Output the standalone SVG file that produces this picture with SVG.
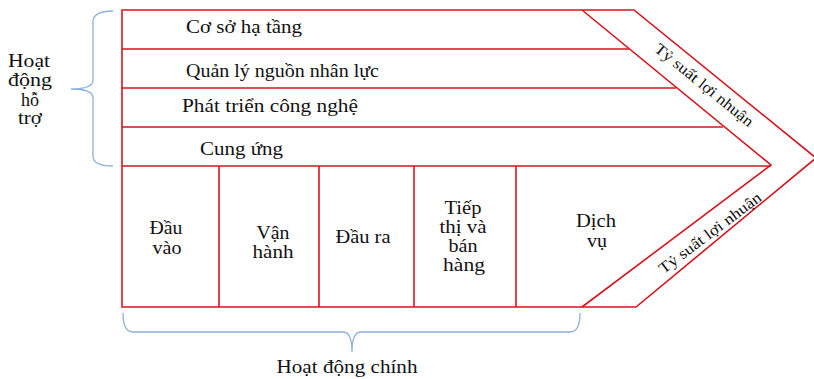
<svg xmlns="http://www.w3.org/2000/svg" width="814" height="379" viewBox="0 0 814 379">
<style>
.ln{stroke:#d7141e;stroke-width:1.6;fill:none}
.br{stroke:#8fb1dd;stroke-width:1.3;fill:none}
.t{font-family:"Liberation Serif","DejaVu Serif","Times New Roman",serif;font-size:18px;fill:#111}
.c{text-anchor:middle}
.s{font-size:15.5px}
</style>
<rect width="814" height="379" fill="#fff"/>
<g id="connectors">
<path class="br" d="M113,11 Q93,11 93,22 L93,80 Q93,89 71,89 Q93,89 93,98 L93,156 Q93,166 113,166"/>
<path class="br" d="M123,313 Q123,332 133,332 L343,332 Q352,332 352,352 Q352,332 361,332 L570,332 Q580,332 580,313"/>
</g>
<g id="frame">
<path class="ln" d="M122,10 L634,10 L816,158 L636,307 L122,307 Z"/>
<path class="ln" d="M582,10 L771,165 L582,307"/>
<line class="ln" x1="122" y1="49" x2="629" y2="49"/>
<line class="ln" x1="122" y1="88" x2="676" y2="88"/>
<line class="ln" x1="122" y1="127" x2="723" y2="127"/>
<line class="ln" x1="122" y1="166" x2="771" y2="166"/>
<line class="ln" x1="219" y1="166" x2="219" y2="307"/>
<line class="ln" x1="319" y1="166" x2="319" y2="307"/>
<line class="ln" x1="414" y1="166" x2="414" y2="307"/>
<line class="ln" x1="516" y1="166" x2="516" y2="307"/>
</g>
<g id="support-infra"><text class="t" x="186" y="33" textLength="116" lengthAdjust="spacingAndGlyphs">Cơ sở hạ tầng</text></g>
<g id="support-hr"><text class="t" x="186" y="77" textLength="193" lengthAdjust="spacingAndGlyphs">Quản lý nguồn nhân lực</text></g>
<g id="support-tech"><text class="t" x="182" y="112" textLength="176" lengthAdjust="spacingAndGlyphs">Phát triển công nghệ</text></g>
<g id="support-proc"><text class="t" x="200" y="155" textLength="83" lengthAdjust="spacingAndGlyphs">Cung ứng</text></g>
<g id="label-support"><text class="t c" x="29" y="67" textLength="42" lengthAdjust="spacingAndGlyphs">Hoạt</text><text class="t c" x="30" y="86" textLength="44" lengthAdjust="spacingAndGlyphs">động</text><text class="t c" x="30" y="106">hỗ</text><text class="t c" x="30" y="124" textLength="24" lengthAdjust="spacingAndGlyphs">trợ</text></g>
<g id="primary-in"><text class="t c" x="166" y="234" textLength="33" lengthAdjust="spacingAndGlyphs">Đầu</text><text class="t c" x="167" y="254" textLength="29" lengthAdjust="spacingAndGlyphs">vào</text></g>
<g id="primary-ops"><text class="t c" x="273" y="239" textLength="33" lengthAdjust="spacingAndGlyphs">Vận</text><text class="t c" x="273" y="258" textLength="41" lengthAdjust="spacingAndGlyphs">hành</text></g>
<g id="primary-out"><text class="t c" x="363" y="243" textLength="55" lengthAdjust="spacingAndGlyphs">Đầu ra</text></g>
<g id="primary-mkt"><text class="t c" x="463" y="214" textLength="37" lengthAdjust="spacingAndGlyphs">Tiếp</text><text class="t c" x="463" y="233" textLength="47" lengthAdjust="spacingAndGlyphs">thị và</text><text class="t c" x="463" y="252" textLength="29" lengthAdjust="spacingAndGlyphs">bán</text><text class="t c" x="464" y="271" textLength="42" lengthAdjust="spacingAndGlyphs">hàng</text></g>
<g id="primary-svc"><text class="t c" x="596" y="227" textLength="40" lengthAdjust="spacingAndGlyphs">Dịch</text><text class="t c" x="597" y="247" textLength="20" lengthAdjust="spacingAndGlyphs">vụ</text></g>
<g id="margin-top"><text class="t c s" transform="translate(701,89) rotate(39)" textLength="122" lengthAdjust="spacingAndGlyphs">Tỷ suất lợi nhuận</text></g>
<g id="margin-bottom"><text class="t c s" transform="translate(713,237) rotate(-37)" textLength="124" lengthAdjust="spacingAndGlyphs">Tỷ suất lợi nhuận</text></g>
<g id="label-primary"><text class="t c" x="347" y="373" textLength="141" lengthAdjust="spacingAndGlyphs">Hoạt động chính</text></g>
</svg>
